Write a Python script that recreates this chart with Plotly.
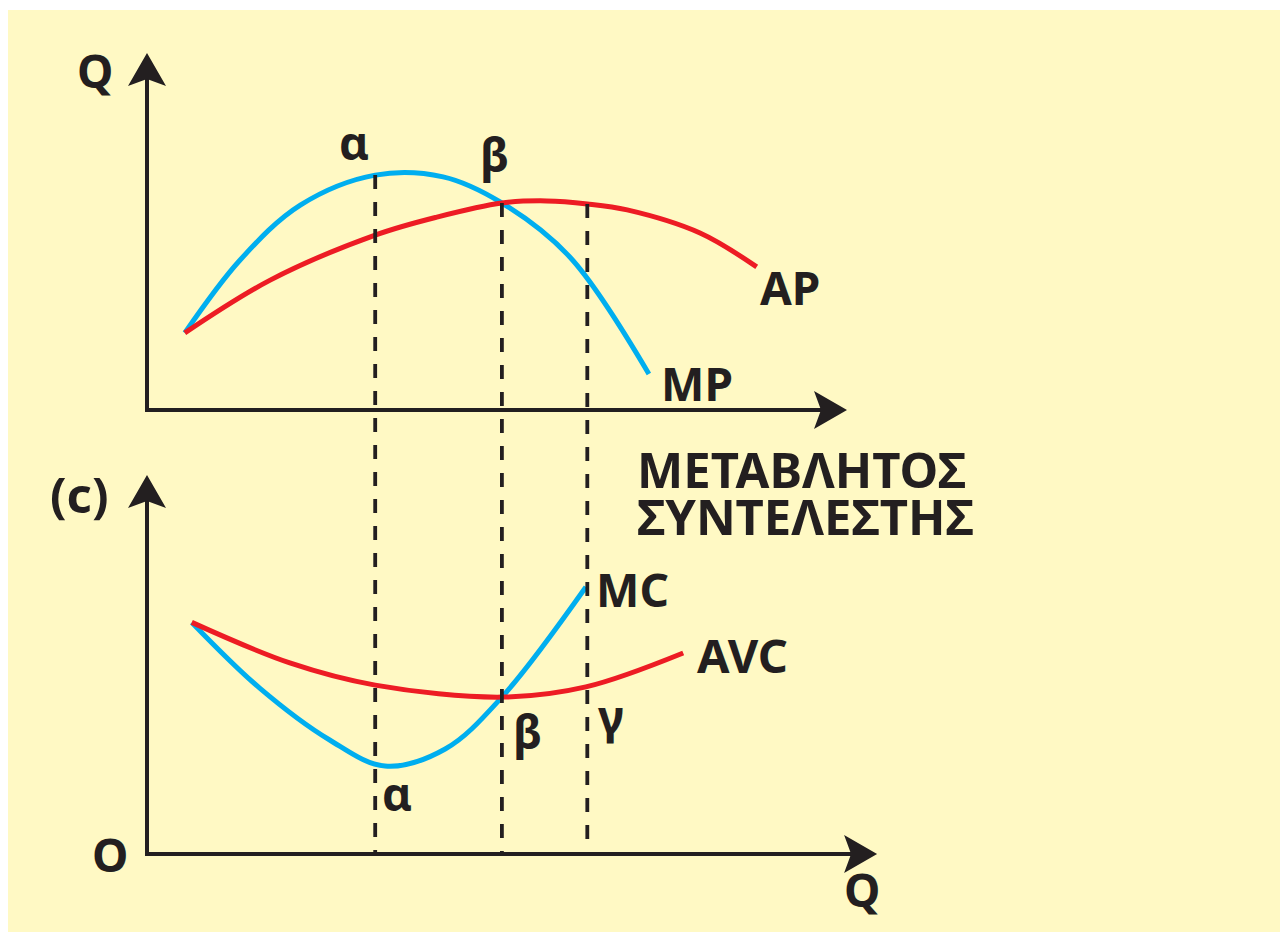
import numpy as np
import plotly.graph_objects as go

# ---------------- data (x: variable factor quantity, y: product / cost) -------------
mp_q = [0.54, 1.33, 2.19, 3.26, 4.23, 5.07, 6.04, 7.17]
mp_v = [2.57, 5.00, 6.83, 7.83, 7.77, 6.90, 5.10, 1.20]
ap_q = [0.54, 1.76, 3.26, 4.14, 5.07, 5.71, 6.29, 6.86, 7.90, 8.71]
ap_v = [2.57, 4.33, 5.83, 6.43, 6.90, 6.97, 6.87, 6.67, 5.90, 4.77]
mc_q = [0.64, 1.61, 2.61, 3.40, 4.26, 5.07, 6.27]
mc_v = [7.72, 5.53, 3.80, 2.93, 3.50, 5.23, 8.90]
avc_q = [0.64, 2.04, 3.26, 5.07, 6.27, 7.66]
avc_v = [7.72, 6.37, 5.63, 5.23, 5.57, 6.70]
guide_q = [3.26, 5.07, 6.29]          # α, β, γ

# ---------------- geometry / style ----------------
W, H = 1288, 932
PAGE = 8                                # body margin of the html page
PX_X, PX_Y = 70.0, 30.0
ORIGIN_X, TOP_ORIGIN_Y, BOT_ORIGIN_Y = 147 - PAGE, 410 - PAGE, 854 - PAGE
BLUE, RED, INK, BG = "#00AEEF", "#ED1C24", "#231F20", "#FFF9C4"
FONT = dict(family="Noto Sans", size=46, color=INK)

xr = [-ORIGIN_X / PX_X, (W - ORIGIN_X) / PX_X]
yr_top = [-(H - TOP_ORIGIN_Y) / PX_Y, TOP_ORIGIN_Y / PX_Y]
yr_bot = [-(H - BOT_ORIGIN_Y) / PX_Y, BOT_ORIGIN_Y / PX_Y]
bot_zero_in_top = -(BOT_ORIGIN_Y - TOP_ORIGIN_Y) / PX_Y

fig = go.Figure()
curve = dict(mode="lines", line_shape="spline", hoverinfo="skip", showlegend=False)
SM = 1.0
fig.add_trace(go.Scatter(x=mp_q, y=mp_v, line=dict(color=BLUE, width=5, smoothing=SM), yaxis="y", **curve))
fig.add_trace(go.Scatter(x=ap_q, y=ap_v, line=dict(color=RED, width=5, smoothing=SM), yaxis="y", **curve))
fig.add_trace(go.Scatter(x=mc_q, y=mc_v, line=dict(color=BLUE, width=5, smoothing=SM), yaxis="y2", **curve))
fig.add_trace(go.Scatter(x=avc_q, y=avc_v, line=dict(color=RED, width=5, smoothing=SM), yaxis="y2", **curve))

shapes = [dict(type="rect", xref="paper", yref="paper", x0=0, x1=1, y0=0, y1=1 - 2 / H,
               fillcolor=BG, line_width=0, layer="below")]
# dashed guide lines from the upper curves down to the lower Q axis
tops = [np.interp(guide_q[0], mp_q, mp_v), np.interp(guide_q[1], ap_q, ap_v), np.interp(guide_q[2], ap_q, ap_v)]
for q, t in zip(guide_q, tops):
    shapes.append(dict(type="line", xref="x", yref="y", x0=q, x1=q, y0=t, y1=bot_zero_in_top,
                       line=dict(color=INK, width=3.8, dash="14px,13px")))

# axes with filled stealth arrowheads
HEAD_L, HEAD_W, NOTCH = 33, 19, 26      # pixels
ex, ey = 2 / PX_X, 2 / PX_Y

def v_axis(tip, yref):
    shapes.append(dict(type="line", xref="x", yref=yref, x0=0, x1=0, y0=-ey, y1=tip - NOTCH / PX_Y,
                       line=dict(color=INK, width=4)))
    pts = [(0, tip), (HEAD_W / PX_X, tip - HEAD_L / PX_Y), (0, tip - NOTCH / PX_Y),
           (-HEAD_W / PX_X, tip - HEAD_L / PX_Y)]
    path = "M " + " L ".join(f"{a:.4f},{b:.4f}" for a, b in pts) + " Z"
    shapes.append(dict(type="path", xref="x", yref=yref, path=path, fillcolor=INK, line_width=0))

def h_axis(tip, yref):
    shapes.append(dict(type="line", xref="x", yref=yref, x0=-ex, x1=tip - NOTCH / PX_X, y0=0, y1=0,
                       line=dict(color=INK, width=4)))
    pts = [(tip, 0), (tip - HEAD_L / PX_X, HEAD_W / PX_Y), (tip - NOTCH / PX_X, 0),
           (tip - HEAD_L / PX_X, -HEAD_W / PX_Y)]
    path = "M " + " L ".join(f"{a:.4f},{b:.4f}" for a, b in pts) + " Z"
    shapes.append(dict(type="path", xref="x", yref=yref, path=path, fillcolor=INK, line_width=0))

v_axis(11.9, "y")
h_axis(10.0, "y")
v_axis(12.63, "y2")
h_axis(10.43, "y2")

ann = []
def label(text, x, y, yref, xanchor="center", size=46, **kw):
    ann.append(dict(x=x, y=y, xref="x", yref=yref, text=f"<b>{text}</b>", showarrow=False,
                    font=dict(FONT, size=size), xanchor=xanchor, yanchor="middle", **kw))

label("Q", -0.74, 11.33, "y")
label("α", 2.96, 8.95, "y")
label("β", 4.96, 8.55, "y")
label("AP", 9.19, 4.10, "y")
label("MP", 7.86, 0.90, "y")
label("ΜΕΤΑΒΛΗΤΟΣ", 6.97, -1.97, "y", xanchor="left", size=49, height=40)
label("ΣΥΝΤΕΛΕΣΤΗΣ", 6.97, -3.53, "y", xanchor="left", size=49, height=40)
label("(c)", -0.96, 12.0, "y2", size=49)
label("MC", 6.94, 8.83, "y2")
label("AVC", 8.51, 6.63, "y2", size=47)
label("β", 5.43, 4.10, "y2")
label("γ", 6.63, 4.6, "y2")
label("α", 3.57, 2.05, "y2")
label("O", -0.53, 0.0, "y2")
label("Q", 10.21, -1.17, "y2")

hidden = dict(visible=False, showgrid=False, zeroline=False, fixedrange=True)
fig.update_layout(
    width=W, height=H, margin=dict(l=0, r=0, t=0, b=0),
    paper_bgcolor="white", plot_bgcolor="rgba(0,0,0,0)",
    xaxis=dict(range=xr, domain=[0, 1], **hidden),
    yaxis=dict(range=yr_top, domain=[0, 1], **hidden),
    yaxis2=dict(range=yr_bot, domain=[0, 1], overlaying="y", **hidden),
    shapes=shapes, annotations=ann, showlegend=False,
)
fig.write_html("out.html")
